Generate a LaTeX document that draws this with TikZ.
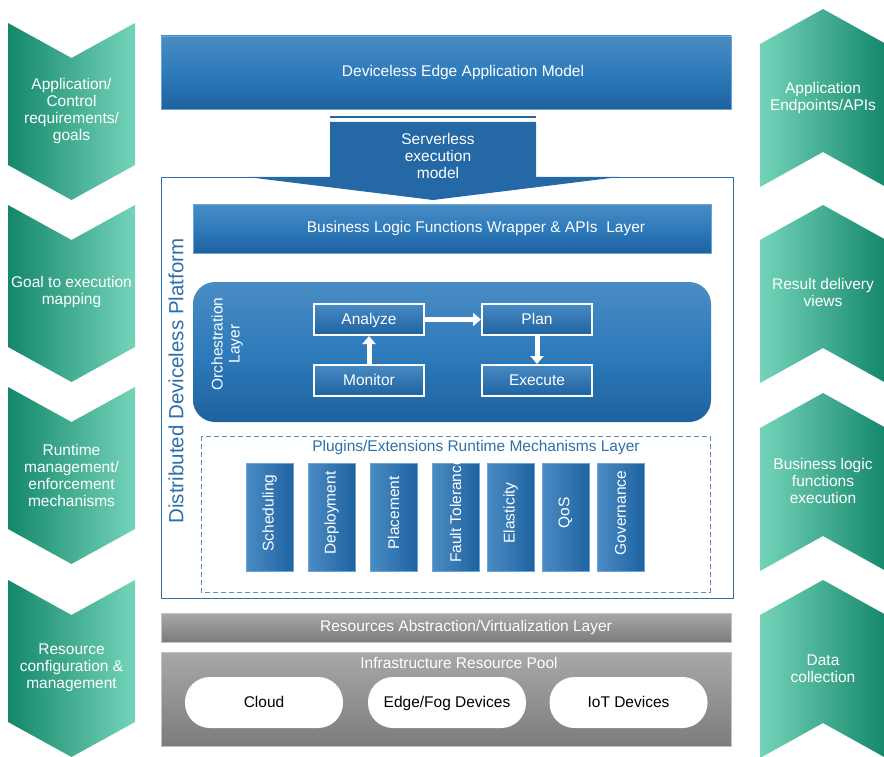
\documentclass[tikz,border=0pt]{standalone}
\usepackage{fontspec}
\setmainfont{Liberation Sans}
\usetikzlibrary{arrows.meta}
\definecolor{bluetop}{HTML}{4A8CC4}
\definecolor{bluemid}{HTML}{2E7BBB}
\definecolor{bluebot}{HTML}{1E62A0}
\definecolor{boxedge}{HTML}{6FA3D2}
\definecolor{srvblue}{HTML}{2468A5}
\definecolor{platblue}{HTML}{2F6FA8}
\definecolor{dashblue}{HTML}{5B8DBF}
\definecolor{tealdark}{HTML}{14876A}
\definecolor{teallight}{HTML}{74D4BA}
\definecolor{graytop}{HTML}{A8A8A8}
\definecolor{graybot}{HTML}{7C7C7C}
\newcommand\lchev[1]{\shade[left color=tealdark,right color=teallight] (8,#1) -- (71.5,#1+35) -- (135,#1) -- (135,#1+142) -- (71.5,#1+177) -- (8,#1+142) -- cycle;}
\newcommand\rchev[1]{\shade[left color=teallight,right color=tealdark] (823,#1) -- (886,#1+35) -- (886,#1+178) -- (823,#1+143) -- (760,#1+178) -- (760,#1+35) -- cycle;}
\begin{document}
\begin{tikzpicture}[x=1pt,y=-1pt,
  every node/.style={inner sep=0pt,outer sep=0pt,font=\fontsize{15.5}{17}\selectfont},
  txt/.style={text=white,align=center},
  oneline/.style={text height=12pt,text depth=2.5pt},
  bluebox/.style={draw=boxedge,line width=0.6pt,top color=bluetop,bottom color=bluebot,middle color=bluemid},
  plugbox/.style={draw=boxedge,line width=0.5pt,left color=bluetop,right color=bluebot,minimum width=47pt,minimum height=108pt},
  orchbox/.style={oneline,draw=white,line width=1.6pt,top color=bluetop!90!bluemid,bottom color=bluebot,minimum width=110pt,minimum height=31pt,text=white},
  warrow/.style={draw=white,line width=5pt,-{Triangle[length=8pt,width=13pt]},shorten >=1pt,shorten <=1pt},
  graybox/.style={draw=graytop!70!white,line width=0.6pt,top color=graytop,bottom color=graybot},
  pill/.style={oneline,fill=white,rounded corners=25pt,minimum width=158pt,minimum height=51pt,text=black}
]
\useasboundingbox (0,0) rectangle (884,757);
% side chevrons
\lchev{23}\lchev{205}\lchev{387}\lchev{580}
\rchev{9}\rchev{205}\rchev{393}\rchev{580}
\node[txt] (l1) at (71.5,111) {Application/\\Control\\requirements/\\goals};
\node[txt] (l2) at (71.5,292) {Goal to execution\\mapping};
\node[txt] (l3) at (71.5,475) {Runtime\\management/\\enforcement\\mechanisms};
\node[txt] (l4) at (71.5,668) {Resource\\configuration \&\\management};
\node[txt] (r1) at (823,98) {Application\\Endpoints/APIs};
\node[txt] (r2) at (823,292) {Result delivery\\views};
\node[txt] (r3) at (823,481) {Business logic\\functions\\execution};
\node[txt] (r4) at (823,669) {Data\\collection};
% application model
\node[bluebox,minimum width=570pt,minimum height=73pt] (app) at (446,72.5) {};
\node[txt,oneline] (appt) at (463,72) {Deviceless Edge Application Model};
% platform frame
\draw[platblue,line width=0.8pt] (161,177) rectangle (733,598);
% serverless
\draw[srvblue,line width=1.4pt] (330,117) -- (536,117);
\fill[srvblue] (330,122) -- (536,122) -- (536,177) -- (619,177) -- (433,200) -- (247,177) -- (330,177) -- cycle;
\node[txt] (srv) at (438,156) {Serverless\\execution\\model};
\node[rotate=90,text=platblue,font=\fontsize{20.5}{24}\selectfont] (plat) at (176,381) {Distributed Deviceless Platform};
% business logic
\node[bluebox,minimum width=518pt,minimum height=49pt] (bl) at (452,228.5) {};
\node[txt,oneline] (blt) at (476,228) {Business Logic Functions Wrapper \& APIs\ \ Layer};
% orchestration
\node[bluebox,draw=none,rounded corners=22pt,minimum width=518pt,minimum height=140pt] (orch) at (452,352) {};
\node[txt,rotate=90] (orl) at (227,344) {Orchestration\\Layer};
\node[orchbox] (an) at (369,319.5) {Analyze};
\node[orchbox] (pl) at (537,319.5) {Plan};
\node[orchbox] (mo) at (369,380.5) {Monitor};
\node[orchbox] (ex) at (537,380.5) {Execute};
\draw[warrow] (an.east) -- (pl.west);
\draw[warrow] (mo.north) -- (an.south);
\draw[warrow] (pl.south) -- (ex.north);
% plugins
\draw[dashblue,dash pattern=on 5pt off 3pt,line width=1pt] (201,436) rectangle (710,592);
\node[text=platblue,oneline] (plt) at (476,447) {Plugins/Extensions Runtime Mechanisms Layer};
\node[plugbox] (p1) at (269.5,517) {};
\node[plugbox] (p2) at (331.5,517) {};
\node[plugbox] (p3) at (393.5,517) {};
\node[plugbox] (p4) at (455.5,517) {};
\node[plugbox] (p5) at (510.5,517) {};
\node[plugbox] (p6) at (565.5,517) {};
\node[plugbox] (p7) at (620.5,517) {};
\node[txt,rotate=90] at (269.5,513) {Scheduling};
\node[txt,rotate=90] at (331.5,513) {Deployment};
\node[txt,rotate=90] at (393.5,513) {Placement};
\node[txt,rotate=90] at (455.5,510) {Fault Tolerance};
\node[txt,rotate=90] at (510.5,513) {Elasticity};
\node[txt,rotate=90] at (565.5,513) {QoS};
\node[txt,rotate=90] at (620.5,513) {Governance};
% resources
\node[graybox,minimum width=570pt,minimum height=29pt] (rav) at (446,627.5) {};
\node[txt,oneline] (ravt) at (466,627) {Resources Abstraction/Virtualization Layer};
\node[graybox,minimum width=570pt,minimum height=94pt] (pool) at (446,699) {};
\node[txt,oneline] (poolt) at (459,664) {Infrastructure Resource Pool};
\node[pill] (cloud) at (264,702.5) {Cloud};
\node[pill] (edge) at (447,702.5) {Edge/Fog Devices};
\node[pill] (iot) at (628.5,702.5) {IoT Devices};
\end{tikzpicture}
\end{document}
